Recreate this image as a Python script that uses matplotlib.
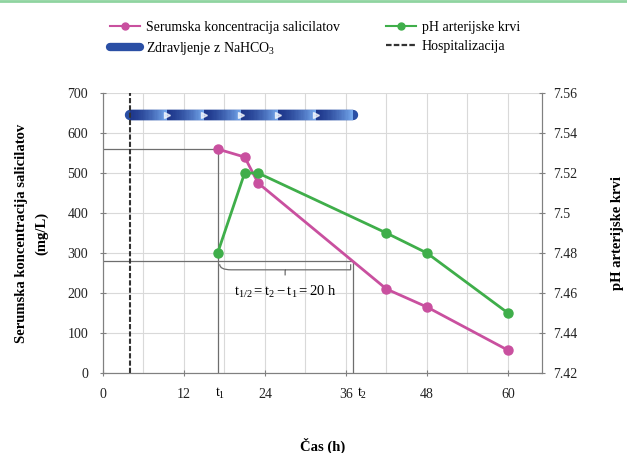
import matplotlib.pyplot as plt
import numpy as np
from matplotlib.lines import Line2D
from matplotlib.path import Path
from matplotlib.patches import PathPatch
from matplotlib.collections import LineCollection
import matplotlib.transforms as mtransforms

# --- DATA ---
time_h = [17, 21, 23, 42, 48, 60]
salicylate = [560, 540, 475, 210, 165, 57]
ph_blood = [7.48, 7.52, 7.52, 7.49, 7.48, 7.45]
x_ticks = [0, 12, 24, 36, 48, 60]
y_ticks = [0, 100, 200, 300, 400, 500, 600, 700]
ph_ticks = [7.42, 7.44, 7.46, 7.48, 7.50, 7.52, 7.54, 7.56]
hospitalization_h = 4
treatment_start, treatment_end, treatment_level = 4, 37, 645
t1, t2 = 17, 37
c_start = 560
c_half = c_start / 2

# --- STYLE ---
plt.rcParams['font.family'] = ['Liberation Serif', 'DejaVu Serif']
plt.rcParams['mathtext.fontset'] = 'custom'
plt.rcParams['mathtext.rm'] = 'Liberation Serif'
plt.rcParams['mathtext.it'] = 'Liberation Serif'
pink = '#c9509f'
green = '#3fae4a'
grid_c = '#d9d9d9'
axis_c = '#808080'
ref_c = '#6e6e6e'
text_c = '#222222'

fig = plt.figure(figsize=(6.27, 4.53), dpi=100)
ax = fig.add_axes([0.164, 0.1766, 0.7, 0.618])
ax2 = ax.twinx()

ax.set_xlim(0, 65)
ax.set_ylim(0, 700)
ax2.set_ylim(7.42, 7.56)

# grid
ax.set_xticks(x_ticks)
ax.set_xticks(np.arange(6, 66, 12), minor=True)
ax.set_yticks(y_ticks)
ax.grid(which='both', color=grid_c, lw=0.8)
ax.set_axisbelow(True)
ax.tick_params(which='minor', length=0)
ax.tick_params(which='major', direction='inout', length=5, color=axis_c, labelsize=10, pad=8,
               labelcolor=text_c)
ax2.set_yticks(ph_ticks)
ax2.set_yticklabels([f"{v:g}" for v in ph_ticks])
ax2.tick_params(direction='inout', length=5, color=axis_c, labelsize=10, pad=6, labelcolor=text_c)
for a in (ax, ax2):
    a.spines['top'].set_visible(False)
    for s in ('left', 'bottom', 'right'):
        a.spines[s].set_color(axis_c)

# t1 / t2 labels on x axis
trans = mtransforms.blended_transform_factory(ax.transData, ax.transAxes)
ax.text(t1 + 0.3, -0.045, '$\\mathrm{t_1}$', transform=trans, ha='center', va='top', fontsize=10)
ax.text(t2 + 1.4, -0.045, '$\\mathrm{t_2}$', transform=trans, ha='center', va='top', fontsize=10)

# hospitalization line
ax.axvline(hospitalization_h, color='#333333', lw=1.5, ls=(0, (2.5, 1)), zorder=4)

# half-life reference lines
ax.plot([0, t1, t1], [c_start, c_start, 0], color=ref_c, lw=0.9, zorder=2)
ax.plot([0, t2, t2], [c_half, c_half, 0], color=ref_c, lw=0.9, zorder=2)

# curly brace between t1 and t2
mid = (t1 + t2) / 2
top, dip, tip = c_half - 8, c_half - 22, c_half - 36
verts = [(t1 + 0.3, top), (t1 + 0.3, dip), (t1 + 2, dip), (t1 + 4, dip),
         (mid - 1.2, dip), (mid, dip), (mid, tip),
         (mid, dip), (mid + 1.2, dip), (t2 - 4, dip),
         (t2 - 2, dip), (t2 - 0.3, dip), (t2 - 0.3, top)]
codes = [Path.MOVETO, Path.CURVE3, Path.CURVE3, Path.LINETO,
         Path.CURVE3, Path.CURVE3, Path.LINETO,
         Path.MOVETO, Path.CURVE3, Path.CURVE3,
         Path.CURVE3, Path.CURVE3, Path.LINETO]
ax.add_patch(PathPatch(Path(verts, codes), fill=False, color=ref_c, lw=0.9))
ax.text(mid, tip - 20, '$\\mathrm{t_{1/2} = t_2 - t_1 = 20\\ h}$', ha='center', va='top', fontsize=10.5)

# treatment band with gradient chevrons
n_seg = 6
bounds = np.linspace(treatment_start, treatment_end, n_seg + 1)
ax.plot([treatment_start, treatment_end], [treatment_level] * 2, color='#2a4fa5', lw=7.5,
        solid_capstyle='round', zorder=3)
segs, cols = [], []
dark = np.array([0.12, 0.22, 0.55])
light = np.array([0.45, 0.65, 0.92])
for a, b in zip(bounds[:-1], bounds[1:]):
    xs = np.linspace(a, b, 30)
    for i in range(len(xs) - 1):
        f = i / (len(xs) - 2)
        segs.append([(xs[i], treatment_level), (xs[i + 1], treatment_level)])
        cols.append(dark + (light - dark) * f ** 1.5)
ax.add_collection(LineCollection(segs, colors=cols, lw=7.5, capstyle='butt', zorder=3))
ax.plot(bounds[1:-1], [treatment_level] * (n_seg - 1), ls='none', marker='>', ms=5,
        color='white', alpha=0.7, zorder=4)

# data series
ax.plot(time_h, salicylate, color=pink, lw=2, marker='o', ms=6.5, zorder=5)
ax2.plot(time_h, ph_blood, color=green, lw=2, marker='o', ms=6.5, zorder=5)

# axis labels
ax.set_ylabel('Serumska koncentracija salicilatov\n(mg/L)', fontsize=10.5, fontweight='bold',
              labelpad=14, linespacing=1.6)
ax2.set_ylabel('pH arterijske krvi', fontsize=10.5, fontweight='bold', labelpad=24)
ax.set_xlabel('Čas (h)', fontsize=10.5, fontweight='bold', labelpad=27)

# legend
handles = [
    Line2D([], [], color=pink, lw=1.5, marker='o', ms=5, label='Serumska koncentracija salicilatov'),
    Line2D([], [], color='#2a4fa5', lw=6, solid_capstyle='round', label='Zdravljenje z NaHCO$_3$'),
    Line2D([], [], color=green, lw=1.5, marker='o', ms=5, label='pH arterijske krvi'),
    Line2D([], [], color='#333333', lw=1.6, ls=(0, (2.5, 1)), label='Hospitalizacija'),
]
fig.legend(handles=handles, ncol=2, loc='upper left', bbox_to_anchor=(0.155, 0.982),
           frameon=False, fontsize=10, handlelength=2.2, columnspacing=3.3,
           handletextpad=0.4, labelspacing=0.45)

# thin border line at the top of the figure
fig.add_artist(Line2D([0, 1], [0.997, 0.997], color='#8fd4a0', lw=2, transform=fig.transFigure))

fig.savefig('out.png', dpi=100)
